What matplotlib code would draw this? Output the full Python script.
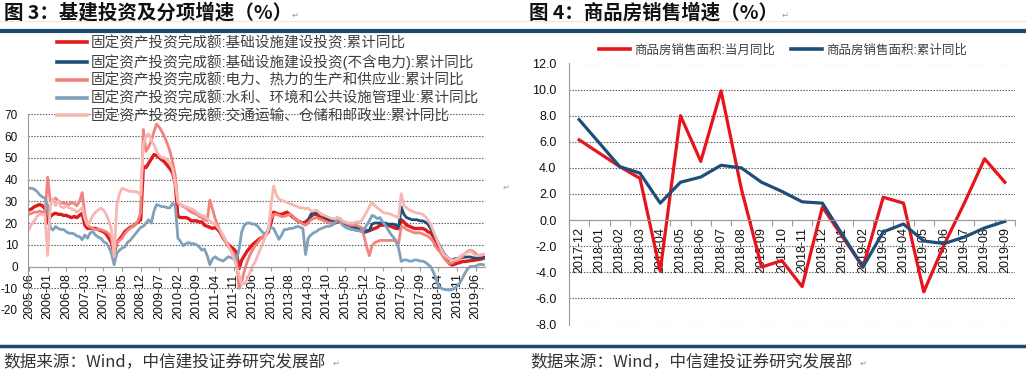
import numpy as np
import matplotlib
matplotlib.use('Agg')
import matplotlib.pyplot as plt
from matplotlib.lines import Line2D

# ---------------- data: left chart (monthly, 2005-06 .. 2019-09) ----------------
left_months_start = '2005-06'
left_n_months = 172
left_ticklabels = ['2005-06', '2006-01', '2006-08', '2007-03', '2007-10', '2008-05',
                   '2008-12', '2009-07', '2010-02', '2010-09', '2011-04', '2011-11',
                   '2012-06', '2013-01', '2013-08', '2014-03', '2014-10', '2015-05',
                   '2015-12', '2016-07', '2017-02', '2017-09', '2018-04', '2018-11',
                   '2019-06']

infra_total = ([26, 26.5, 27.5, 28, 28.5, 28, 26.5] +
               [20, 23, 24, 24.5, 24, 24, 23.5, 23.5, 23, 22.5, 23, 22.5] +
               [23.5, 24.5, 19, 17.5, 17.5, 17.5, 17.5, 17, 16.5, 16, 15, 13] +
               [11, 6, 11, 12.5, 14, 16, 17, 18, 18.5, 19.5, 20.5, 21.5] +
               [46, 45.5, 47.5, 49.5, 51.5, 51, 50, 49, 48, 46.5, 45, 43] +
               [38, 23, 22.5, 22.5, 22.5, 22, 21, 21, 21, 20.5, 20.5, 19] +
               [18.5, 18, 17.5, 18, 17, 15.5, 13, 11.5, 10, 9, 8, 6.5] +
               [-1, 3, 5, 7, 8.5, 10, 11, 12, 13, 13.5, 14.5, 16] +
               [20, 25, 24.5, 24, 24, 24.5, 25, 24, 23, 22, 21, 20.5] +
               [20, 20.5, 21.5, 23, 24, 24, 23, 22.5, 21.5, 21, 20.5, 20.5] +
               [20, 20.5, 21.5, 20.5, 20, 19.5, 19, 18.5, 18, 17.5, 17.5, 17] +
               [16.5, 16.5, 17, 17.5, 18, 19, 19, 19, 19, 18.5, 18, 17.5] +
               [17.5, 21.5, 20.5, 19, 18.5, 18, 17.5, 17.5, 17.5, 17.5, 17, 16] +
               [15.5, 14, 11.5, 9, 7, 4.5, 3, 1.5, 0.7, 1, 1.5, 1.8] +
               [2.3, 2.3, 2.5, 2.7, 2.8, 3, 3.2, 3.4, 3.8])

infra_ex_power_start = 105   # series begins at 2014-03
infra_ex_power = ([21, 24, 25, 24.5, 24.5, 24, 23, 22, 21.5, 21] +
                  [21, 21.5, 22, 20.5, 19.5, 19, 18.5, 18, 18, 17.5, 17, 15.5] +
                  [16, 16.5, 19.5, 20, 20, 20, 20, 20, 19.5, 19.5, 19.5, 19] +
                  [18, 27.3, 24, 22.5, 22, 21.5, 21.5, 21.5, 21, 21, 20.5, 19.5] +
                  [17.5, 15.5, 13, 10.7, 8.4, 6, 4.6, 3.5, 3.1, 3.5, 3.7, 3.8] +
                  [4.1, 4.3, 4.4, 4.4, 4.0, 4.1, 3.8, 4.2, 4.5])

power = ([24, 24.5, 25, 25, 25.5, 25, 24] +
         [41, 30, 30.5, 31.5, 30, 29.5, 29, 29, 28.5, 29.5, 29, 28] +
         [30, 34, 24, 19, 18, 17.5, 17, 17, 17, 16.5, 16, 15] +
         [13, 7, 11, 12, 13, 15, 16.5, 17.5, 18.5, 19.5, 21, 25] +
         [63, 53, 55, 58, 62, 65.5, 64, 62, 59.5, 56.5, 53, 48] +
         [42, 29, 28.5, 27.5, 27, 26, 25, 24.5, 24, 23, 22.5, 21.5] +
         [21, 30.5, 26.5, 22, 19, 16, 13, 11, 9, 7.5, 6, 3] +
         [-10, -7, -2, 2, 5, 7.5, 9.5, 11, 12.5, 14, 15, 17] +
         [22, 24, 24, 23.5, 23, 23, 23.5, 24, 23.5, 22, 21, 20.5] +
         [19.5, 19, 20, 21.5, 22, 22.5, 22, 21.5, 21, 20.5, 20, 20] +
         [20, 21, 21.5, 20.5, 20, 19.5, 19, 19, 19, 18.5, 18, 14] +
         [9, 5, 9.5, 11, 11.5, 12, 12, 12, 12, 12, 12, 11.5] +
         [10.5, 18.5, 18, 17, 16.5, 16, 15.5, 15.5, 15.5, 15, 14.5, 14] +
         [13, 11.5, 9, 7.5, 6, 4, 2.5, 1.5, 1.5, 2.5, 3, 3.5] +
         [4.5, 6, 7, 7.5, 7, 6, 5, 5, 5.5])

water_env = ([36, 36, 35.5, 34.5, 33, 32, 31.5] +
             [28, 18, 16.8, 18.4, 17.5, 17, 17, 16, 15.3, 15.3, 15, 14] +
             [13.8, 12.3, 14.5, 13, 15.5, 16, 14.5, 13.5, 13, 11.5, 10.8, 9] +
             [6, 0.8, 6, 7.5, 8.5, 9, 11, 12, 13.5, 15, 16.5, 18] +
             [18.5, 20, 21.5, 20, 25.5, 28.5, 28, 27.5, 27.5, 27, 27, 29] +
             [28, 13, 11.5, 9.5, 10.5, 11, 10.5, 10.5, 10, 9, 7.5, 8] +
             [5, 0.8, 3.5, 4.5, 3.5, 3, 2.5, 3.5, 4.5, 4, 3.5, 3] +
             [8, 16, 19, 20, 20, 19.5, 19.5, 18.5, 17, 15.5, 15, 17] +
             [18, 17.5, 15, 12.5, 14.5, 17, 17, 17.5, 17.5, 18, 18.5, 18] +
             [17.5, 5.5, 13, 14.5, 15.5, 16, 17, 17.5, 18, 18.5, 18.5, 19] +
             [20, 22.5, 20.5, 19, 18, 17.5, 17, 17, 16.5, 16.5, 16, 17] +
             [19, 21, 23.5, 23, 22, 22.5, 20.5, 19, 17, 15, 13.5, 12] +
             [8.4, 2.3, 3, 3, 2.5, 2.5, 3, 3, 2.5, 2.5, 2, 1] +
             [0, -2.3, -5.3, -9, -10, -10.5, -10.7, -10.8, -10.7, -10, -9, -7.6] +
             [-5.4, -3, -1, 0, 0, 0.2, 0.8, 1, 0.8])

transport = ([17, 19.5, 21, 23, 24, 24, 24] +
             [5, 28, 31, 28, 30, 27.5, 27, 28, 27, 26.5, 26, 25] +
             [26, 27, 22, 19, 21, 23.5, 25, 26, 26.8, 26, 24, 21] +
             [17, 4.5, 28, 33.5, 36, 35.5, 35, 34.5, 34.5, 34.5, 34, 33] +
             [56, 60, 61, 58, 56, 53, 51, 50, 50, 49, 47.5, 45] +
             [38, 30, 28.5, 28, 27.5, 27, 26.5, 26, 25, 24, 23.5, 23] +
             [22, 21, 20, 19.5, 18, 16.5, 14.5, 12, 9.5, 7, 4, 0] +
             [-4, -8, -8, -6, -3, 0, 2, 5, 8, 11, 14, 17] +
             [28, 37, 33, 31, 30.5, 30, 29.5, 29, 28.5, 28, 27.5, 27] +
             [27, 26.5, 26.8, 25.5, 25.5, 26, 25, 24, 23.5, 23, 22.5, 22] +
             [22, 22.5, 22, 21, 20.5, 20, 20, 20, 20.5, 20.5, 21, 23] +
             [25, 27.5, 29.5, 28, 27, 26, 25, 24.5, 24.5, 24, 23.5, 23] +
             [22.5, 33.5, 28, 27, 26, 25.5, 25, 24.5, 24.5, 24, 23, 21.5] +
             [19.5, 16.5, 13.5, 10.5, 8, 5.5, 4.5, 3.5, 3, 3, 3.5, 4.5] +
             [5.5, 6, 6.5, 7, 6, 5, 5, 5.5, 5.5])

left_labels = ['固定资产投资完成额:基础设施建设投资:累计同比',
               '固定资产投资完成额:基础设施建设投资(不含电力):累计同比',
               '固定资产投资完成额:电力、热力的生产和供应业:累计同比',
               '固定资产投资完成额:水利、环境和公共设施管理业:累计同比',
               '固定资产投资完成额:交通运输、仓储和邮政业:累计同比']

# ---------------- data: right chart ----------------
right_months = ['2017-12', '2018-01', '2018-02', '2018-03', '2018-04', '2018-05',
                '2018-06', '2018-07', '2018-08', '2018-09', '2018-10', '2018-11',
                '2018-12', '2019-01', '2019-02', '2019-03', '2019-04', '2019-05',
                '2019-06', '2019-07', '2019-08', '2019-09']
sales_month_yoy = [6.15, None, 4.1, 3.2, -3.9, 8.0, 4.5, 9.9, 2.4, -3.6, -3.1, -5.1,
                   1.0, None, -3.6, 1.75, 1.3, -5.5, -1.9, 1.3, 4.7, 2.9]
sales_cum_yoy = [7.7, None, 4.1, 3.6, 1.3, 2.9, 3.3, 4.2, 4.0, 2.9, 2.2, 1.4,
                 1.3, None, -3.6, -0.9, -0.3, -1.6, -1.8, -1.3, -0.6, -0.1]
right_labels = ['商品房销售面积:当月同比', '商品房销售面积:累计同比']

# ---------------- styling ----------------
plt.rcParams['font.family'] = ['Liberation Sans', 'Noto Sans CJK SC', 'DejaVu Sans']
CJK = ['Noto Sans CJK SC', 'DejaVu Sans']
W, H = 1026, 374

c_red = '#E01A1A'
c_navy = '#1F4E79'
c_salmon = '#F2827D'
c_bluegray = '#7FA1BC'
c_pink = '#F7B7B3'
c_rule = '#1B4A6E'
grid_kw = dict(color='#555555', linestyle=(0, (1.2, 1.4)), linewidth=0.8)
axis_gray = '#9A9A9A'


def fx(px):
    return px / W


def fy(py):
    return 1 - py / H


def plot_connected(ax, x, y, **kw):
    x = np.asarray(x, dtype=float)
    y = np.array([np.nan if v is None else v for v in y], dtype=float)
    m = np.isfinite(y)
    ax.plot(x[m], y[m], **kw)


fig = plt.figure(figsize=(W / 100, H / 100), dpi=100)
fig.patch.set_facecolor('white')

# ---------------- left chart ----------------
axL = fig.add_axes([fx(27.7), fy(310), fx(485) - fx(27.7), fy(114.3) - fy(310)])
xL = np.arange(left_n_months)
lw_main = 2.4
lw_sub = 2.0
plot_connected(axL, xL, infra_total, color=c_red, lw=lw_main, solid_joinstyle='round')
plot_connected(axL, xL[infra_ex_power_start:infra_ex_power_start + len(infra_ex_power)],
               infra_ex_power, color=c_navy, lw=lw_sub, solid_joinstyle='round')
plot_connected(axL, xL, power, color=c_salmon, lw=lw_sub, solid_joinstyle='round')
plot_connected(axL, xL, water_env, color=c_bluegray, lw=lw_sub, solid_joinstyle='round')
plot_connected(axL, xL, transport, color=c_pink, lw=lw_sub, solid_joinstyle='round')

axL.set_xlim(-0.5, left_n_months - 0.5)
axL.set_ylim(-20, 70)
axL.set_yticks(np.arange(-20, 71, 10))
axL.set_yticklabels([f'{v:d}' for v in range(-20, 71, 10)])
axL.set_axisbelow(True)
axL.yaxis.grid(True, **grid_kw)
for s in ('top', 'right'):
    axL.spines[s].set_visible(False)
axL.spines['bottom'].set_position(('data', 0))
axL.spines['bottom'].set_color(axis_gray)
axL.spines['left'].set_color(axis_gray)
tick_pos = [i for i in range(0, left_n_months, 7)]
axL.set_xticks(tick_pos)
axL.set_xticklabels(left_ticklabels, rotation=90)
axL.tick_params(axis='x', length=3, width=0.8, color=axis_gray, pad=2,
                labelsize=9, labelcolor='#111111')
axL.tick_params(axis='y', length=0, pad=7, labelsize=8.5, labelcolor='#111111')

handlesL = [Line2D([], [], color=c, lw=2.6) for c in
            (c_red, c_navy, c_salmon, c_bluegray, c_pink)]
legL = fig.legend(handlesL, left_labels, loc='upper left',
                  bbox_to_anchor=(fx(57), fy(36)), frameon=False,
                  handlelength=2.05, handletextpad=0.27, labelspacing=0.24,
                  borderpad=0, borderaxespad=0, labelcolor='#404040',
                  prop={'family': ['Liberation Sans', 'Noto Sans CJK SC'], 'size': 10.5})

# ---------------- right chart ----------------
axR = fig.add_axes([fx(569), fy(324.5), fx(1015) - fx(569), fy(63.5) - fy(324.5)])
xR = np.arange(len(right_months))
plot_connected(axR, xR, sales_month_yoy, color='#E8141C', lw=2.3, solid_joinstyle='round')
plot_connected(axR, xR, sales_cum_yoy, color=c_navy, lw=2.3, solid_joinstyle='round')
axR.set_xlim(-0.5, len(right_months) - 0.5)
axR.set_ylim(-8, 12)
yt = np.arange(-8, 12.1, 2)
axR.set_yticks(yt)
axR.set_yticklabels([f'{v:.1f}' for v in yt])
axR.set_axisbelow(True)
axR.yaxis.grid(True, **grid_kw)
for s in ('top', 'right'):
    axR.spines[s].set_visible(False)
axR.spines['bottom'].set_position(('data', 0))
axR.spines['bottom'].set_color(axis_gray)
axR.spines['left'].set_color(axis_gray)
axR.set_xticks(xR)
axR.set_xticklabels(right_months, rotation=90)
axR.set_xticks(np.arange(-0.5, len(right_months), 1), minor=True)
axR.tick_params(axis='x', which='major', length=0, pad=5, labelsize=9, labelcolor='#111111')
axR.tick_params(axis='x', which='minor', length=4, width=0.8, color=axis_gray)
axR.tick_params(axis='y', length=0, pad=9, labelsize=9, labelcolor='#111111')

handlesR = [Line2D([], [], color='#E8141C', lw=2.6), Line2D([], [], color=c_navy, lw=2.6)]
legR = fig.legend(handlesR, right_labels, loc='upper left', ncol=2,
                  bbox_to_anchor=(fx(599), fy(44)), frameon=False,
                  handlelength=2.5, handletextpad=0.3, columnspacing=1.3,
                  borderpad=0, borderaxespad=0, labelcolor='#404040',
                  prop={'family': ['Liberation Sans', 'Noto Sans CJK SC'], 'size': 9})

# ---------------- titles, rules, notes ----------------
fig.text(fx(4), fy(13), '图 3：基建投资及分项增速（%）', fontsize=14, fontweight='bold',
         va='center', ha='left', family=CJK, color='#111111')
fig.text(fx(292), fy(15), '↵', fontsize=6, va='center', color='#9A9A9A', family='DejaVu Sans')
fig.text(fx(529), fy(13), '图 4：商品房销售增速（%）', fontsize=14, fontweight='bold',
         va='center', ha='left', family=CJK, color='#111111')
fig.text(fx(782), fy(15), '↵', fontsize=6, va='center', color='#9A9A9A', family='DejaVu Sans')
fig.text(fx(503), fy(187), '↵', fontsize=6, va='center', color='#9A9A9A', family='DejaVu Sans')

fig.add_artist(Line2D([0, 1], [fy(21), fy(21)], color='#EFE8DC', lw=0.8,
                      transform=fig.transFigure))
fig.add_artist(Line2D([0, 1], [fy(31), fy(31)], color=c_rule, lw=3.0,
                      transform=fig.transFigure))
fig.add_artist(Line2D([0, 1], [fy(346), fy(346)], color=c_rule, lw=2.5,
                      transform=fig.transFigure))

fig.text(fx(3), fy(362), '数据来源：Wind，中信建投证券研究发展部', fontsize=12,
         style='italic', va='center', ha='left', family=CJK, color='#333333')
fig.text(fx(333), fy(363), '↵', fontsize=6, va='center', color='#9A9A9A', family='DejaVu Sans')
fig.text(fx(530), fy(362), '数据来源：Wind，中信建投证券研究发展部', fontsize=12,
         style='italic', va='center', ha='left', family=CJK, color='#333333')
fig.text(fx(860), fy(363), '↵', fontsize=6, va='center', color='#9A9A9A', family='DejaVu Sans')

fig.savefig('out.png', dpi=100, facecolor='white')
